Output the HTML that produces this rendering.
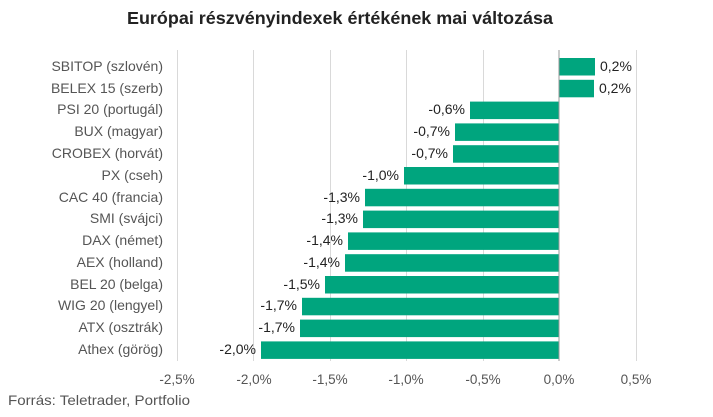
<!DOCTYPE html>
<html><head><meta charset="utf-8"><style>
body{margin:0;background:#fff}
svg{display:block;font-family:"Liberation Sans",sans-serif}
</style></head><body>
<svg width="713" height="417" viewBox="0 0 713 417">
<text x="340" y="24" text-anchor="middle" font-size="17.5" font-weight="bold" fill="#222" textLength="426" lengthAdjust="spacingAndGlyphs">Európai részvényindexek értékének mai változása</text>
<g stroke="#d9d9d9" stroke-width="1">
<line x1="177.5" y1="50" x2="177.5" y2="361"/>
<line x1="253.5" y1="50" x2="253.5" y2="361"/>
<line x1="330.5" y1="50" x2="330.5" y2="361"/>
<line x1="406.5" y1="50" x2="406.5" y2="361"/>
<line x1="483.5" y1="50" x2="483.5" y2="361"/>
<line x1="636.5" y1="50" x2="636.5" y2="361"/>
</g>
<g fill="#00a57e">
<rect x="559" y="58" width="36" height="17.5"/>
<rect x="559" y="79.8" width="35" height="17.5"/>
<rect x="470" y="101.6" width="89" height="17.5"/>
<rect x="455" y="123.4" width="104" height="17.5"/>
<rect x="453" y="145.2" width="106" height="17.5"/>
<rect x="404" y="167" width="155" height="17.5"/>
<rect x="365" y="188.8" width="194" height="17.5"/>
<rect x="363" y="210.6" width="196" height="17.5"/>
<rect x="348" y="232.4" width="211" height="17.5"/>
<rect x="345" y="254.2" width="214" height="17.5"/>
<rect x="325" y="276" width="234" height="17.5"/>
<rect x="302" y="297.8" width="257" height="17.5"/>
<rect x="300" y="319.6" width="259" height="17.5"/>
<rect x="261" y="341.4" width="298" height="17.5"/>
</g>
<line x1="559" y1="50" x2="559" y2="361" stroke="#999" stroke-width="1"/>
<g font-size="14" fill="#555" text-anchor="end">
<text x="163" y="71">SBITOP (szlovén)</text>
<text x="163" y="93">BELEX 15 (szerb)</text>
<text x="163" y="114">PSI 20 (portugál)</text>
<text x="163" y="136">BUX (magyar)</text>
<text x="163" y="158">CROBEX (horvát)</text>
<text x="163" y="180">PX (cseh)</text>
<text x="163" y="202">CAC 40 (francia)</text>
<text x="163" y="223">SMI (svájci)</text>
<text x="163" y="245">DAX (német)</text>
<text x="163" y="267">AEX (holland)</text>
<text x="163" y="289">BEL 20 (belga)</text>
<text x="163" y="310">WIG 20 (lengyel)</text>
<text x="163" y="332">ATX (osztrák)</text>
<text x="163" y="354">Athex (görög)</text>
</g>
<g font-size="14" fill="#222">
<text x="600" y="71">0,2%</text>
<text x="599" y="93">0,2%</text>
<g text-anchor="end">
<text x="465" y="114">-0,6%</text>
<text x="450" y="136">-0,7%</text>
<text x="448" y="158">-0,7%</text>
<text x="399" y="180">-1,0%</text>
<text x="360" y="202">-1,3%</text>
<text x="358" y="223">-1,3%</text>
<text x="343" y="245">-1,4%</text>
<text x="340" y="267">-1,4%</text>
<text x="320" y="289">-1,5%</text>
<text x="297" y="310">-1,7%</text>
<text x="295" y="332">-1,7%</text>
<text x="256" y="354">-2,0%</text>
</g></g>
<g font-size="13.5" fill="#555" text-anchor="middle">
<text x="177" y="384">-2,5%</text>
<text x="254" y="384">-2,0%</text>
<text x="330" y="384">-1,5%</text>
<text x="406" y="384">-1,0%</text>
<text x="483" y="384">-0,5%</text>
<text x="559" y="384">0,0%</text>
<text x="636" y="384">0,5%</text>
</g>
<text x="8" y="405" font-size="14" fill="#555" textLength="182" lengthAdjust="spacingAndGlyphs">Forrás: Teletrader, Portfolio</text>
</svg>
</body></html>
